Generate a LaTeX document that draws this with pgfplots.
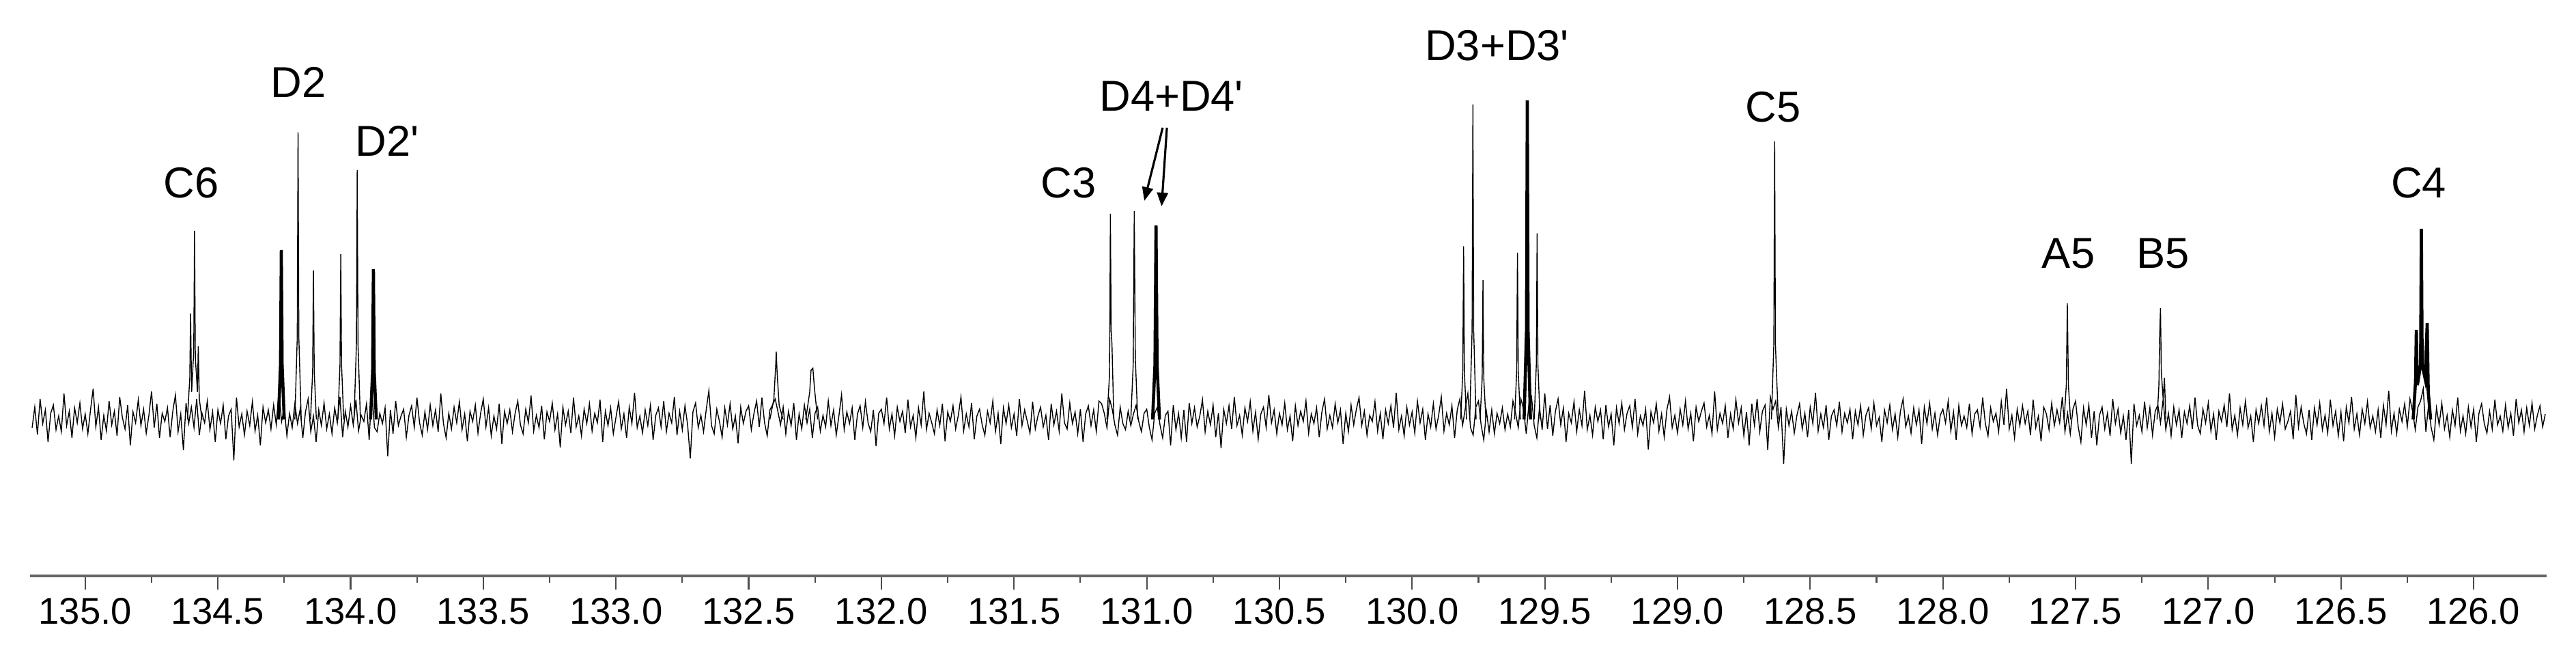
\documentclass[border=0pt]{standalone}
\usepackage{fontspec}
\setmainfont{Liberation Sans}[Ligatures=TeXOff]
\usepackage{pgfplots}
\pgfplotsset{compat=1.18}
\usetikzlibrary{arrows.meta}

\begin{document}
\begin{tikzpicture}
\begin{axis}[
  scale only axis,
  width=36.86cm, height=8.43cm,
  xmin=125.725, xmax=135.208,
  ymin=-229, ymax=614,
  x dir=reverse,
  axis x line=bottom, axis y line=none,
  axis line style={-, line width=1.1pt, draw=black!60},
  ytick=\empty,
  xtick={126,126.5,...,135}, minor x tick num=1,
  tick align=outside, major tick length=0.2cm, minor tick length=0.1cm,
  tick style={black!70, line width=0.6pt},
  xticklabel style={font=\fontsize{15.5}{18}\selectfont,
    /pgf/number format/fixed, /pgf/number format/fixed zerofill,
    /pgf/number format/precision=1, /pgf/number format/assume math mode=true},
  clip=false,
  cycle list={{black, solid, line width=1.3pt, line join=round, mark=none}},
]
% baseline noise
\addplot coordinates {
(135.20,-12)(135.19,18)(135.18,-22)(135.17,30)(135.16,-6)(135.15,14)(135.14,-33)(135.13,9)(135.12,21)(135.11,-15)
(135.10,5)(135.09,-18)(135.08,38)(135.07,-9)(135.06,12)(135.05,-27)(135.04,17)(135.03,-5)(135.02,24)(135.01,-14)
(135.00,8)(134.99,-21)(134.98,14)(134.97,45)(134.96,-11)(134.95,18)(134.94,-30)(134.93,6)(134.92,-17)(134.91,27)
(134.90,-8)(134.89,12)(134.88,-24)(134.87,33)(134.86,3)(134.85,-14)(134.84,21)(134.83,-38)(134.82,11)(134.81,-5)
(134.80,29)(134.79,-9)(134.78,15)(134.77,-20)(134.76,6)(134.75,41)(134.74,-12)(134.73,23)(134.72,-27)(134.71,9)
(134.70,-3)(134.69,17)(134.68,-26)(134.67,12)(134.66,36)(134.65,-18)(134.64,8)(134.63,-45)(134.62,24)(134.61,-6)
(134.60,18)(134.59,-12)(134.58,30)(134.57,-23)(134.56,9)(134.55,-5)(134.54,27)(134.53,-15)(134.52,11)(134.51,-33)
(134.50,14)(134.49,-6)(134.48,21)(134.47,-29)(134.46,5)(134.45,15)(134.44,-60)(134.43,32)(134.42,-11)(134.41,8)
(134.40,-23)(134.39,12)(134.38,-9)(134.37,26)(134.36,-17)(134.35,6)(134.34,-38)(134.33,18)(134.32,-5)(134.31,14)
(134.30,-14)(134.29,21)(134.28,-8)(134.27,42)(134.26,-3)(134.25,17)(134.24,-24)(134.23,9)(134.22,-12)(134.21,23)
(134.20,-6)(134.19,15)(134.18,-27)(134.17,11)(134.16,30)(134.15,-18)(134.14,5)(134.13,-33)(134.12,14)(134.11,-9)
(134.10,24)(134.09,-14)(134.08,8)(134.07,-21)(134.06,17)(134.05,-5)(134.04,33)(134.03,-26)(134.02,12)(134.01,-11)
(134.00,20)(133.99,-8)(133.98,29)(133.97,-17)(133.96,6)(133.95,-3)(133.94,23)(133.93,-30)(133.92,45)(133.91,-12)
(133.90,-18)(133.89,9)(133.88,-6)(133.87,17)(133.86,-54)(133.85,14)(133.84,-21)(133.83,27)(133.82,-9)(133.81,5)
(133.80,15)(133.79,-26)(133.78,6)(133.77,20)(133.76,-12)(133.75,32)(133.74,-5)(133.73,-23)(133.72,11)(133.71,-15)
(133.70,21)(133.69,-9)(133.68,14)(133.67,-18)(133.66,38)(133.65,-6)(133.64,-27)(133.63,9)(133.62,-14)(133.61,18)
(133.60,-5)(133.59,26)(133.58,-15)(133.57,8)(133.56,-32)(133.55,12)(133.54,-3)(133.53,21)(133.52,-20)(133.51,9)
(133.50,30)(133.49,-11)(133.48,17)(133.47,-24)(133.46,5)(133.45,-14)(133.44,23)(133.43,-36)(133.42,12)(133.41,-6)
(133.40,14)(133.39,-18)(133.38,9)(133.37,27)(133.36,-8)(133.35,-21)(133.34,15)(133.33,-5)(133.32,35)(133.31,-17)
(133.30,6)(133.29,-12)(133.28,20)(133.27,-29)(133.26,11)(133.25,-3)(133.24,24)(133.23,-15)(133.22,8)(133.21,-41)
(133.20,18)(133.19,-8)(133.18,12)(133.17,-20)(133.16,32)(133.15,-11)(133.14,5)(133.13,-24)(133.12,15)(133.11,-6)
(133.10,23)(133.09,-17)(133.08,9)(133.07,-5)(133.06,29)(133.05,-33)(133.04,12)(133.03,-9)(133.02,17)(133.01,-21)
(133.00,3)(132.99,26)(132.98,-14)(132.97,8)(132.96,-27)(132.95,18)(132.94,-6)(132.93,39)(132.92,-12)(132.91,5)
(132.90,-20)(132.89,14)(132.88,-9)(132.87,21)(132.86,-30)(132.85,6)(132.84,17)(132.83,-11)(132.82,27)(132.81,-18)
(132.80,9)(132.79,-5)(132.78,33)(132.77,-23)(132.76,12)(132.75,-15)(132.74,20)(132.73,-8)(132.72,-57)(132.71,11)
(132.70,24)(132.69,-12)(132.68,6)(132.67,-18)(132.66,14)(132.65,42)(132.64,-9)(132.63,-21)(132.62,15)(132.61,-3)
(132.60,-26)(132.59,17)(132.58,-8)(132.57,23)(132.56,-14)(132.55,5)(132.54,-35)(132.53,18)(132.52,-6)(132.51,12)
(132.50,20)(132.49,-15)(132.48,9)(132.47,27)(132.46,-11)(132.45,32)(132.44,-5)(132.43,-24)(132.42,14)(132.41,21)
(132.40,30)(132.39,12)(132.38,-8)(132.37,18)(132.36,-21)(132.35,12)(132.34,-9)(132.33,24)(132.32,-30)(132.31,8)
(132.30,-14)(132.29,21)(132.28,-5)(132.27,15)(132.26,-27)(132.25,9)(132.24,18)(132.23,-17)(132.22,6)(132.21,-11)
(132.20,27)(132.19,-9)(132.18,14)(132.17,-23)(132.16,5)(132.15,36)(132.14,-15)(132.13,11)(132.12,-6)(132.11,17)
(132.10,-30)(132.09,8)(132.08,20)(132.07,-12)(132.06,26)(132.05,-5)(132.04,-18)(132.03,14)(132.02,-39)(132.01,9)
(132.00,15)(131.99,-6)(131.98,32)(131.97,-14)(131.96,8)(131.95,-24)(131.94,18)(131.93,-3)(131.92,12)(131.91,-20)
(131.90,29)(131.89,-11)(131.88,6)(131.87,-27)(131.86,17)(131.85,-8)(131.84,41)(131.83,-15)(131.82,9)(131.81,-5)
(131.80,-21)(131.79,14)(131.78,-9)(131.77,23)(131.76,-32)(131.75,11)(131.74,-3)(131.73,20)(131.72,-14)(131.71,6)
(131.70,33)(131.69,-17)(131.68,8)(131.67,-11)(131.66,24)(131.65,-29)(131.64,5)(131.63,15)(131.62,-8)(131.61,-23)
(131.60,12)(131.59,-5)(131.58,27)(131.57,-18)(131.56,9)(131.55,-36)(131.54,17)(131.53,-6)(131.52,21)(131.51,-12)
(131.50,8)(131.49,-24)(131.48,30)(131.47,-9)(131.46,14)(131.45,-3)(131.44,-20)(131.43,26)(131.42,-14)(131.41,5)
(131.40,18)(131.39,-11)(131.38,6)(131.37,-30)(131.36,23)(131.35,-8)(131.34,12)(131.33,-17)(131.32,38)(131.31,-5)
(131.30,-14)(131.29,24)(131.28,-6)(131.27,11)(131.26,-21)(131.25,15)(131.24,-33)(131.23,8)(131.22,20)(131.21,-9)
(131.20,14)(131.19,-18)(131.18,27)(131.17,23)(131.16,9)(131.15,-12)(131.14,30)(131.13,15)(131.12,-8)(131.11,-23)
(131.10,18)(131.09,-6)(131.08,-15)(131.07,12)(131.06,-9)(131.05,8)(131.04,21)(131.03,-3)(131.02,-18)(131.01,9)
(131.00,15)(130.99,-12)(130.98,-30)(130.97,9)(130.96,18)(130.95,-8)(130.94,-27)(130.93,6)(130.92,12)(130.91,-38)
(130.90,21)(130.89,-15)(130.88,9)(130.87,-27)(130.86,14)(130.85,-33)(130.84,24)(130.83,-6)(130.82,17)(130.81,-11)
(130.80,5)(130.79,29)(130.78,-18)(130.77,12)(130.76,-8)(130.75,21)(130.74,-26)(130.73,9)(130.72,-42)(130.71,15)
(130.70,-6)(130.69,20)(130.68,-14)(130.67,33)(130.66,-9)(130.65,6)(130.64,-23)(130.63,17)(130.62,-3)(130.61,26)
(130.60,-17)(130.59,11)(130.58,-29)(130.57,8)(130.56,18)(130.55,-12)(130.54,36)(130.53,-5)(130.52,14)(130.51,-21)
(130.50,9)(130.49,-8)(130.48,24)(130.47,-15)(130.46,5)(130.45,-32)(130.44,20)(130.43,-9)(130.42,12)(130.41,-3)
(130.40,27)(130.39,-20)(130.38,8)(130.37,-6)(130.36,17)(130.35,-26)(130.34,11)(130.33,30)(130.32,-14)(130.31,6)
(130.30,-12)(130.29,23)(130.28,-5)(130.27,14)(130.26,-36)(130.25,9)(130.24,-18)(130.23,21)(130.22,-8)(130.21,15)
(130.20,32)(130.19,-9)(130.18,12)(130.17,-23)(130.16,6)(130.15,-3)(130.14,26)(130.13,-17)(130.12,9)(130.11,-29)
(130.10,14)(130.09,-6)(130.08,20)(130.07,-12)(130.06,39)(130.05,-15)(130.04,5)(130.03,-24)(130.02,18)(130.01,-8)
(130.00,11)(129.99,-20)(129.98,27)(129.97,-5)(129.96,15)(129.95,-30)(129.94,8)(129.93,-11)(129.92,23)(129.91,-14)
(129.90,6)(129.89,33)(129.88,-17)(129.87,9)(129.86,-8)(129.85,20)(129.84,-27)(129.83,14)(129.82,30)(129.81,-9)
(129.80,15)(129.79,38)(129.78,-12)(129.77,-23)(129.76,18)(129.75,27)(129.74,-8)(129.73,-30)(129.72,12)(129.71,-18)
(129.70,14)(129.69,-21)(129.68,9)(129.67,-6)(129.66,17)(129.65,-15)(129.64,8)(129.63,-11)(129.62,27)(129.61,9)
(129.60,-12)(129.59,30)(129.58,15)(129.57,-21)(129.56,23)(129.55,33)(129.54,-9)(129.53,-27)(129.52,18)(129.51,-15)
(129.50,38)(129.49,-14)(129.48,21)(129.47,-24)(129.46,12)(129.45,30)(129.44,-8)(129.43,17)(129.42,-33)(129.41,9)
(129.40,-5)(129.39,26)(129.38,-18)(129.37,14)(129.36,-9)(129.35,42)(129.34,-15)(129.33,6)(129.32,-23)(129.31,18)
(129.30,-3)(129.29,14)(129.28,-29)(129.27,21)(129.26,-11)(129.25,8)(129.24,-38)(129.23,17)(129.22,-6)(129.21,24)
(129.20,-15)(129.19,9)(129.18,20)(129.17,-12)(129.16,30)(129.15,-21)(129.14,5)(129.13,-9)(129.12,15)(129.11,-44)
(129.10,11)(129.09,-5)(129.08,23)(129.07,-17)(129.06,8)(129.05,-26)(129.04,14)(129.03,33)(129.02,-12)(129.01,6)
(129.00,-20)(128.99,15)(128.98,-8)(128.97,27)(128.96,-14)(128.95,9)(128.94,-32)(128.93,18)(128.92,-3)(128.91,12)
(128.90,24)(128.89,-11)(128.88,6)(128.87,-21)(128.86,41)(128.85,-15)(128.84,9)(128.83,-6)(128.82,20)(128.81,-27)
(128.80,8)(128.79,-14)(128.78,29)(128.77,-5)(128.76,17)(128.75,-24)(128.74,11)(128.73,-38)(128.72,23)(128.71,-9)
(128.70,30)(128.69,-18)(128.68,12)(128.67,21)(128.66,-45)(128.65,33)(128.64,15)(128.63,27)(128.62,-12)(128.61,18)
(128.60,-65)(128.59,15)(128.58,-9)(128.57,12)(128.56,-20)(128.55,6)(128.54,23)(128.53,-14)(128.52,9)(128.51,-26)
(128.50,18)(128.49,-6)(128.48,39)(128.47,-17)(128.46,8)(128.45,-12)(128.44,21)(128.43,-30)(128.42,5)(128.41,14)
(128.40,-9)(128.39,26)(128.38,-18)(128.37,9)(128.36,-5)(128.35,15)(128.34,-29)(128.33,12)(128.32,-8)(128.31,20)
(128.30,-23)(128.29,6)(128.28,17)(128.27,-14)(128.26,24)(128.25,-9)(128.24,3)(128.23,-33)(128.22,14)(128.21,-5)
(128.20,21)(128.19,-15)(128.18,8)(128.17,-26)(128.16,12)(128.15,30)(128.14,-11)(128.13,5)(128.12,-20)(128.11,17)
(128.10,-8)(128.09,14)(128.08,-36)(128.07,18)(128.06,-6)(128.05,24)(128.04,-14)(128.03,9)(128.02,-23)(128.01,6)
(128.00,15)(127.99,-5)(127.98,27)(127.97,-17)(127.96,11)(127.95,-30)(127.94,20)(127.93,-9)(127.92,5)(127.91,-12)
(127.90,23)(127.89,-21)(127.88,8)(127.87,14)(127.86,-11)(127.85,32)(127.84,-6)(127.83,-24)(127.82,17)(127.81,-3)
(127.80,9)(127.79,-18)(127.78,26)(127.77,-8)(127.76,45)(127.75,-14)(127.74,6)(127.73,-27)(127.72,15)(127.71,-9)
(127.70,20)(127.69,-6)(127.68,12)(127.67,-23)(127.66,29)(127.65,-12)(127.64,5)(127.63,-32)(127.62,18)(127.61,8)
(127.60,-15)(127.59,24)(127.58,-9)(127.57,14)(127.56,-5)(127.55,33)(127.54,-18)(127.53,9)(127.52,-21)(127.51,15)
(127.50,27)(127.49,-11)(127.48,-33)(127.47,17)(127.46,-8)(127.45,21)(127.44,-27)(127.43,12)(127.42,-38)(127.41,6)
(127.40,18)(127.39,-14)(127.38,9)(127.37,-24)(127.36,30)(127.35,-6)(127.34,15)(127.33,-20)(127.32,5)(127.31,-30)
(127.30,14)(127.29,-65)(127.28,23)(127.27,-9)(127.26,6)(127.25,-18)(127.24,26)(127.23,-12)(127.22,17)(127.21,-23)
(127.20,12)(127.19,21)(127.18,-5)(127.17,30)(127.16,-15)(127.15,9)(127.14,-24)(127.13,18)(127.12,-8)(127.11,14)
(127.10,-27)(127.09,11)(127.08,-6)(127.07,20)(127.06,-14)(127.05,32)(127.04,-9)(127.03,-21)(127.02,15)(127.01,-5)
(127.00,24)(126.99,-17)(126.98,8)(126.97,-30)(126.96,12)(126.95,-3)(126.94,21)(126.93,-11)(126.92,38)(126.91,-15)
(126.90,6)(126.89,-23)(126.88,17)(126.87,-8)(126.86,27)(126.85,-12)(126.84,5)(126.83,-33)(126.82,14)(126.81,-6)
(126.80,20)(126.79,-9)(126.78,32)(126.77,-18)(126.76,9)(126.75,-26)(126.74,15)(126.73,-5)(126.72,23)(126.71,-14)
(126.70,-3)(126.69,12)(126.68,-29)(126.67,36)(126.66,-11)(126.65,18)(126.64,-6)(126.63,-21)(126.62,14)(126.61,-30)
(126.60,17)(126.59,-8)(126.58,24)(126.57,-15)(126.56,6)(126.55,-20)(126.54,29)(126.53,-9)(126.52,12)(126.51,-24)
(126.50,11)(126.49,-32)(126.48,18)(126.47,-5)(126.46,33)(126.45,-14)(126.44,8)(126.43,-23)(126.42,15)(126.41,-6)
(126.40,26)(126.39,-12)(126.38,5)(126.37,-18)(126.36,14)(126.35,-27)(126.34,21)(126.33,-8)(126.32,42)(126.31,-17)
(126.30,9)(126.29,-21)(126.28,15)(126.27,-3)(126.26,23)(126.25,-11)(126.24,30)(126.23,12)(126.22,-15)(126.21,18)
(126.20,27)(126.19,45)(126.18,-18)(126.17,21)(126.16,-12)(126.15,-30)(126.14,17)(126.13,-8)(126.12,24)(126.11,-14)
(126.10,6)(126.09,-26)(126.08,14)(126.07,-9)(126.06,32)(126.05,-17)(126.04,5)(126.03,-21)(126.02,18)(126.01,-11)
(126.00,15)(125.99,-33)(125.98,9)(125.97,23)(125.96,-6)(125.95,-20)(125.94,12)(125.93,-14)(125.92,29)(125.91,-8)
(125.90,5)(125.89,-17)(125.88,21)(125.87,-12)(125.86,9)(125.85,-24)(125.84,30)(125.83,-5)(125.82,14)(125.81,-18)
(125.80,17)(125.79,-9)(125.78,24)(125.77,-14)(125.76,6)(125.75,20)(125.74,-11)(125.73,8)
};
% C6
\addplot coordinates {(134.615,0)(134.606,60)(134.603,155)(134.599,40)(134.591,100)(134.588,276)(134.585,90)(134.577,40)(134.574,107)(134.570,30)(134.560,0)};
% D2 / D2'
\addplot coordinates {(134.272,0)(134.264,80)(134.261,248)(134.258,80)(134.250,0)};
\addplot coordinates {(134.210,0)(134.201,120)(134.198,420)(134.195,120)(134.186,0)};
\addplot coordinates {(134.151,0)(134.143,70)(134.140,218)(134.137,70)(134.129,0)};
\addplot coordinates {(134.048,0)(134.040,80)(134.037,242)(134.034,80)(134.026,0)};
\addplot coordinates {(133.987,0)(133.978,110)(133.975,365)(133.972,110)(133.963,0)};
\addplot coordinates {(133.925,0)(133.917,70)(133.914,220)(133.911,70)(133.903,0)};
% bumps near 132.3
\addplot coordinates {(132.420,0)(132.405,30)(132.398,80)(132.396,99)(132.393,70)(132.385,20)(132.370,0)};
\addplot coordinates {(132.285,0)(132.270,40)(132.265,72)(132.258,75)(132.252,45)(132.240,0)};
% C3, D4, D4'
\addplot coordinates {(131.150,0)(131.141,60)(131.139,130)(131.137,301)(131.134,130)(131.131,110)(131.124,0)};
\addplot coordinates {(131.060,0)(131.051,80)(131.047,305)(131.043,90)(131.034,0)};
\addplot coordinates {(130.978,0)(130.969,80)(130.965,284)(130.961,80)(130.952,0)};
% D3 + D3'
\addplot coordinates {(129.817,0)(129.809,70)(129.806,253)(129.803,70)(129.795,0)};
\addplot coordinates {(129.783,0)(129.774,130)(129.771,461)(129.768,130)(129.759,0)};
\addplot coordinates {(129.744,0)(129.736,60)(129.733,204)(129.730,60)(129.722,0)};
\addplot coordinates {(129.614,0)(129.606,70)(129.603,244)(129.600,70)(129.592,0)};
\addplot coordinates {(129.578,0)(129.569,130)(129.566,467)(129.563,130)(129.554,0)};
\addplot coordinates {(129.540,0)(129.532,80)(129.529,272)(129.526,80)(129.518,0)};
% C5
\addplot coordinates {(128.646,0)(128.637,110)(128.634,407)(128.631,110)(128.627,68)(128.620,0)};
% A5, B5
\addplot coordinates {(127.543,0)(127.535,50)(127.531,170)(127.527,50)(127.519,0)};
\addplot coordinates {(127.193,0)(127.186,50)(127.183,124)(127.180,163)(127.177,70)(127.170,30)(127.165,61)(127.160,0)};
% C4
\addplot coordinates {(126.228,0)(126.219,55)(126.216,131)(126.212,50)(126.200,80)(126.197,279)(126.194,80)(126.183,60)(126.175,141)(126.171,40)(126.162,0)};

% assignments
\begin{scope}[every node/.style={font=\fontsize{18}{21}\selectfont, inner sep=0pt}]
\node[anchor=base] at (axis cs:134.601,324) {C6};
\node[anchor=base] at (axis cs:134.197,471) {D2};
\node[anchor=base west] at (axis cs:133.984,385) {D2'};
\node[anchor=base] at (axis cs:131.295,324) {C3};
\node[anchor=base west] at (axis cs:131.180,451) {D4+D4'};
\node[anchor=base] at (axis cs:129.680,525) {D3+D3'};
\node[anchor=base] at (axis cs:128.640,435) {C5};
\node[anchor=base] at (axis cs:127.527,221) {A5};
\node[anchor=base] at (axis cs:127.171,221) {B5};
\node[anchor=base] at (axis cs:126.207,324) {C4};
\end{scope}
\draw[line width=0.9pt, -{Triangle[length=0.2cm, width=0.16cm]}] (axis cs:130.940,427) -- (axis cs:131.009,320);
\draw[line width=0.9pt, -{Triangle[length=0.2cm, width=0.16cm]}] (axis cs:130.924,427) -- (axis cs:130.944,312);
\end{axis}
\path (current axis.south west) ++(-0.44cm,-1.07cm);
\path (current axis.north east) ++(0.43cm,0cm);
\end{tikzpicture}
\end{document}
